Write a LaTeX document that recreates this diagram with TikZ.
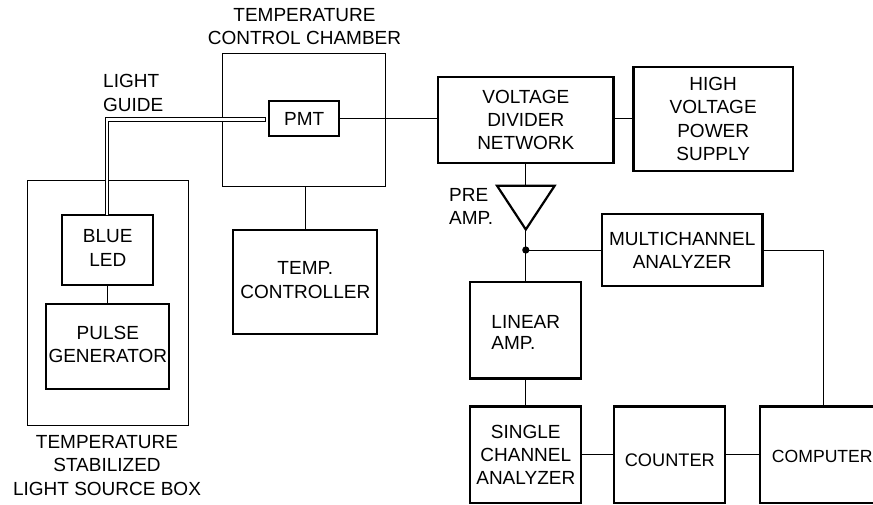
\documentclass[tikz,border=0pt]{standalone}
\usepackage{fontspec}
\setmainfont{Liberation Sans}
\usetikzlibrary{positioning}
\newcommand{\lowertext}[2]{\raisebox{-#1}[\height][\depth]{#2}}

\begin{document}
\begin{tikzpicture}[
  x=1pt,y=-1pt,
  font=\fontsize{19}{23.2}\selectfont,
  unit/.style={draw,line width=2.2pt,align=center,inner sep=0pt,outer sep=0pt},
  enclosure/.style={draw,line width=1pt,inner sep=0pt,outer sep=0pt},
  caption/.style={align=center,inner sep=0pt},
  wire/.style={line width=1pt},
  guide/.style={line width=1pt}
]
  \useasboundingbox (0,0) rectangle (873,504);

  % enclosures
  \node[enclosure,minimum width=163pt,minimum height=133pt] (chamber) at (304,119.5) {};
  \node[enclosure,minimum width=161pt,minimum height=245pt] (sourcebox) at (107.5,302.5) {};

  % left part
  \node[unit,minimum width=70pt,minimum height=35pt] (pmt) at (304.2,118.5) {PMT};
  \node[unit,minimum width=91pt,minimum height=70.5pt,text depth=4pt] (led) at (107.8,250) {BLUE\\LED};
  \node[unit,minimum width=123pt,minimum height=84.5pt,text depth=4pt,below=19pt of led] (pulser) {PULSE\\GENERATOR};
  \node[unit,minimum width=144pt,minimum height=104pt,text depth=4pt] (controller) at (305.3,282) {TEMP.\\CONTROLLER};

  % upper right part
  \node[unit,minimum width=175.5pt,minimum height=85.5pt] (divider) at (525.8,120) {VOLTAGE\\DIVIDER\\NETWORK};
  \node[unit,minimum width=159.5pt,minimum height=103.5pt] (supply) at (713.2,119) {HIGH\\VOLTAGE\\POWER\\SUPPLY};
  \node[unit,minimum width=160.5pt,minimum height=72pt] (mca) at (682.2,250) {MULTICHANNEL\\ANALYZER};

  % lower right part
  \node[unit,minimum width=111pt,minimum height=96.5pt] (linear) at (525.8,330.2) {\lowertext{4.5pt}{\begin{tabular}{@{}l@{}}LINEAR\\[-2pt]AMP.\end{tabular}}};
  \node[unit,minimum width=111pt,minimum height=96.5pt,below=28pt of linear] (single) {SINGLE\\CHANNEL\\ANALYZER};
  \node[unit,minimum width=111pt,minimum height=96.5pt,right=33pt of single] (counter) {\lowertext{6pt}{\fontsize{18.2}{23.2}\selectfont COUNTER}};
  \node[unit,minimum width=124pt,minimum height=96.5pt,right=35pt of counter] (computer) {\lowertext{2pt}{\fontsize{17.6}{23.2}\selectfont COMPUTER}};

  % pre amplifier
  \coordinate (amptop) at (525.8,185.7);
  \coordinate (ampleft) at (497,185.7);
  \coordinate (ampright) at (554.7,185.7);
  \coordinate (ampout) at (525.8,229.5);
  \coordinate (junction) at (525.8,250);
  \draw[line width=2.2pt,line join=miter] (ampleft) -- (ampright) -- (ampout) -- cycle;
  \fill (junction) circle (3.6pt);

  % light guide
  \coordinate (guideend) at (265.7,119.5);
  \coordinate (guidetop) at (106.8,119.5);
  \draw[guide,double,double distance=2.6pt] (guideend) -- (guidetop) -- (guidetop |- led.north);
  \draw[guide] ([yshift=2pt]guideend) -- ([yshift=-2pt]guideend);

  % connections
  \draw[wire] (pmt.east) -- (pmt.east -| divider.west);
  \draw[wire] (pmt.east -| divider.east) -- (pmt.east -| supply.west);
  \draw[wire] (controller.north |- chamber.south) -- (controller.north);
  \draw[wire] (led.south) -- (pulser.north);
  \draw[wire] (divider.south) -- (amptop);
  \draw[wire] (ampout) -- (linear.north);
  \draw[wire] (junction) -- (mca.west);
  \draw[wire] (mca.east) -| (823.3,406);
  \draw[wire] (linear.south) -- (single.north);
  \draw[wire] (single.east) -- (counter.west);
  \draw[wire] (counter.east) -- (computer.west);

  % captions
  \node[caption] (chambertext) at (304.5,26.5) {TEMPERATURE\\CONTROL CHAMBER};
  \node[caption,align=left,anchor=west] (guidetext) at (103,93) {LIGHT\\GUIDE};
  \node[caption,align=left,anchor=west] (amptext) at (449,206.5) {PRE\\AMP.};
  \node[caption] (boxtext) at (107,465.5) {TEMPERATURE\\STABILIZED\\LIGHT SOURCE BOX};
\end{tikzpicture}
\end{document}
